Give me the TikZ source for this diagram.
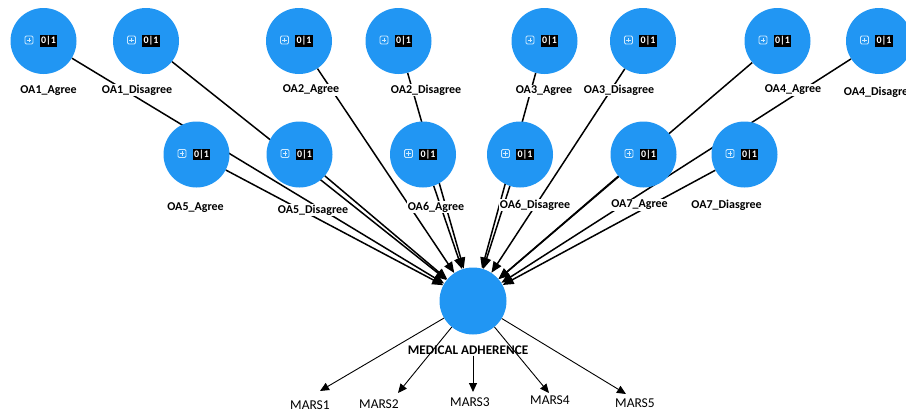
\documentclass[tikz,border=0pt]{standalone}
\usepackage{fontspec}
\setmainfont{Carlito}
\usetikzlibrary{arrows.meta}
\definecolor{oablue}{RGB}{33,150,243}
\definecolor{iconblue}{RGB}{205,234,255}
\newcommand\oaicon{\hspace{10pt}{\setlength\fboxsep{1.5pt}\colorbox{black}{\fontsize{10}{10}\selectfont\bfseries\textcolor{white}{0|1}}}}
\pgfdeclarelayer{bg}
\pgfsetlayers{bg,main}
\begin{document}
\begin{tikzpicture}[x=1pt,y=-1pt,
  oa/.style={circle, fill=oablue, minimum size=66pt, inner sep=0pt},
  iconline/.style={draw=iconblue, line width=0.9pt},
  lab/.style={fill=white, inner sep=1pt, font=\fontsize{12}{12}\selectfont\bfseries},
  link/.style={line width=1.5pt, -{Triangle[length=11pt,width=9pt]}},
  outlink/.style={line width=0.9pt, -{Triangle[length=9pt,width=8pt]}},
  mars/.style={inner sep=1pt, font=\fontsize{13.5}{13.5}\selectfont}]
\clip (0,0) rectangle (906,415);
% top row
\node[oa] (oa1a) at (43.5,41) {\oaicon};
\node[oa] (oa1d) at (146,41) {\oaicon};
\node[oa] (oa2a) at (299,41) {\oaicon};
\node[oa] (oa2d) at (398.5,41) {\oaicon};
\node[oa] (oa3a) at (544.5,41) {\oaicon};
\node[oa] (oa3d) at (643,41) {\oaicon};
\node[oa] (oa4a) at (777.5,41) {\oaicon};
\node[oa] (oa4d) at (879,41) {\oaicon};
% second row
\node[oa] (oa5a) at (196.5,154.5) {\oaicon};
\node[oa] (oa5d) at (299.5,154.5) {\oaicon};
\node[oa] (oa6a) at (423,154.5) {\oaicon};
\node[oa] (oa6d) at (520,154.5) {\oaicon};
\node[oa] (oa7a) at (643.5,154.5) {\oaicon};
\node[oa] (oa7d) at (744.5,154.5) {\oaicon};
% plus icons
\foreach \n in {oa1a,oa1d,oa2a,oa2d,oa3a,oa3d,oa4a,oa4d,oa5a,oa5d,oa6a,oa6d,oa7a,oa7d}{
  \draw[iconline, rounded corners=1.2pt] ([shift={(-18.5,-5)}]\n.center) rectangle ([shift={(-10.5,3)}]\n.center);
  \draw[iconline] ([shift={(-14.5,-3.2)}]\n.center) -- ([shift={(-14.5,1.2)}]\n.center)
                  ([shift={(-16.7,-1)}]\n.center) -- ([shift={(-12.3,-1)}]\n.center);
}
% central
\node[circle, fill=oablue, minimum size=67pt, inner sep=0pt] (ma) at (473,301) {};
\node[inner sep=1pt, font=\fontsize{13.2}{13.2}\selectfont\bfseries] (malab) at (468,350) {MEDICAL ADHERENCE};
% labels
\node[lab] (l1a) at (48.5,91) {OA1\_Agree};
\node[lab] (l1d) at (137,90) {OA1\_Disagree};
\node[lab] (l2a) at (311,90) {OA2\_Agree};
\node[lab] (l2d) at (426,90) {OA2\_Disagree};
\node[lab] (l3a) at (544,91) {OA3\_Agree};
\node[lab] (l3d) at (619,90) {OA3\_Disagree};
\node[lab] (l4a) at (793,90) {OA4\_Agree};
\node[lab] (l4d) at (879,92) {OA4\_Disagree};
\node[lab] (l5a) at (195.5,208) {OA5\_Agree};
\node[lab] (l5d) at (313,210) {OA5\_Disagree};
\node[lab] (l6a) at (436,207) {OA6\_Agree};
\node[lab] (l6d) at (535,205) {OA6\_Disagree};
\node[lab] (l7a) at (639.5,205) {OA7\_Agree};
\node[lab] (l7d) at (726.5,205) {OA7\_Diasgree};
% MARS
\node[mars] (m1) at (310,405) {MARS1};
\node[mars] (m2) at (379,404) {MARS2};
\node[mars] (m3) at (470,402) {MARS3};
\node[mars] (m4) at (550,400) {MARS4};
\node[mars] (m5) at (635,403) {MARS5};
\coordinate (t1) at (320,391);
\coordinate (t2) at (398,393);
\coordinate (t3) at (473,392);
\coordinate (t4) at (549,393);
\coordinate (t5) at (626,394);
\begin{pgfonlayer}{bg}
\foreach \n in {oa1a,oa1d,oa2a,oa2d,oa3a,oa3d,oa4a,oa4d,oa5a,oa5d,oa6a,oa6d,oa7a,oa7d}
  \draw[link] (\n) -- (ma);
\end{pgfonlayer}
\draw[outlink] (ma) -- (t1);
\draw[outlink] (ma) -- (t2);
\draw[outlink] (malab.south -| t3) -- (t3);
\draw[outlink] (ma) -- (t4);
\draw[outlink] (ma) -- (t5);
\end{tikzpicture}
\end{document}
